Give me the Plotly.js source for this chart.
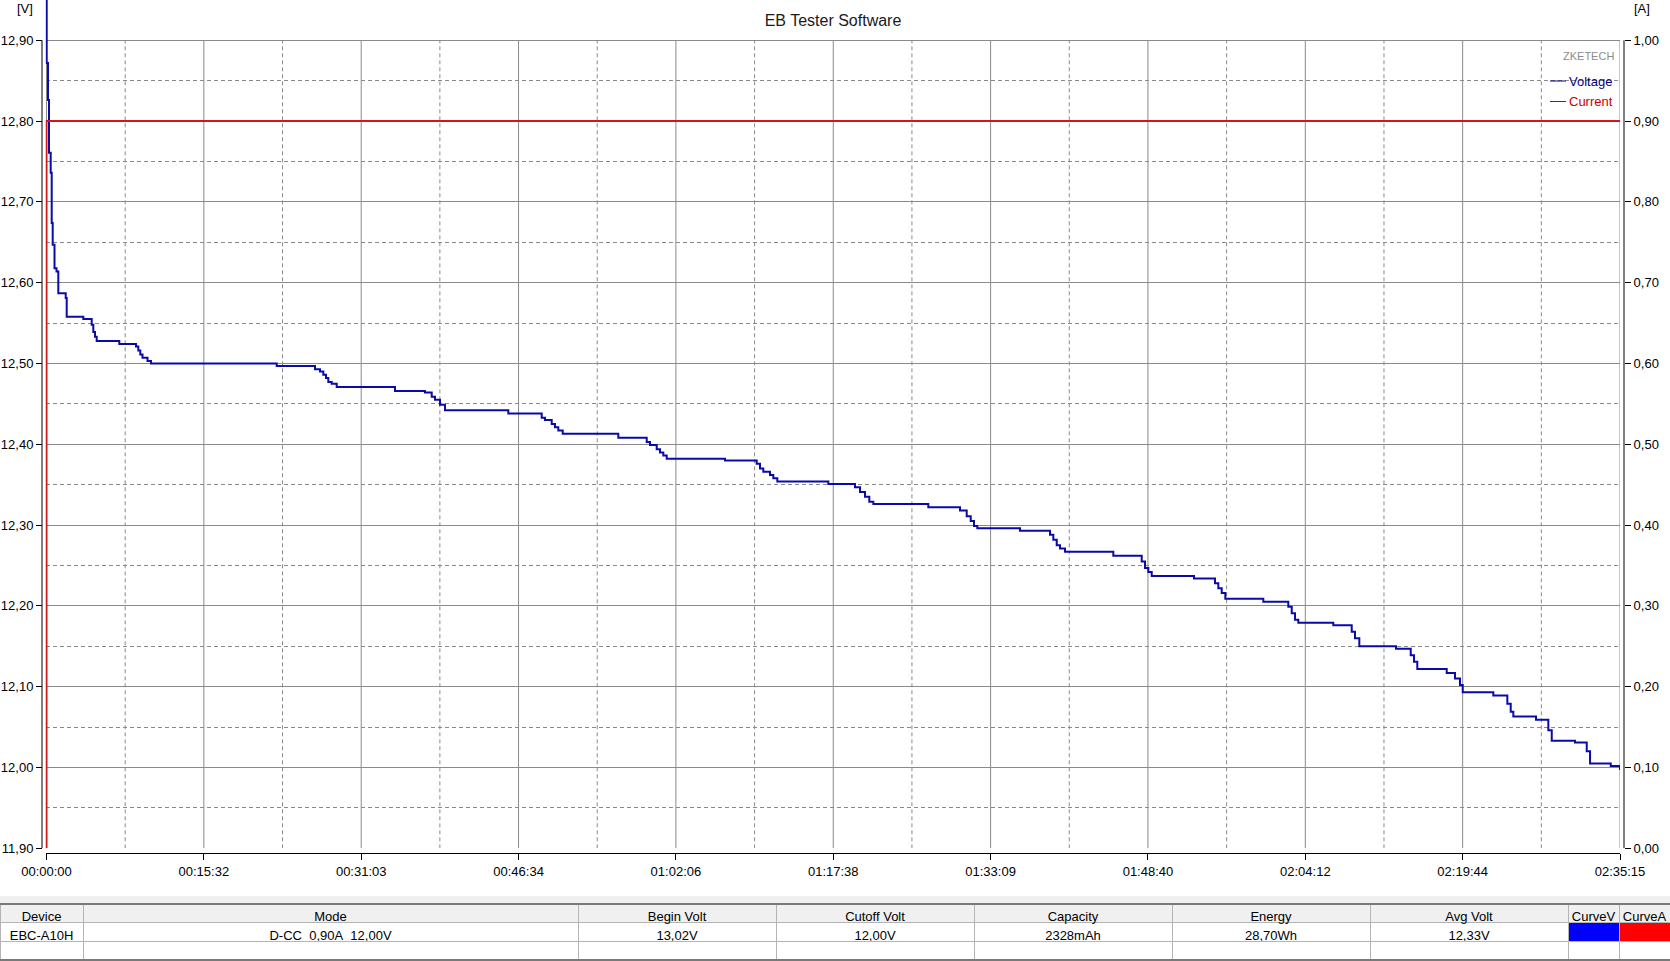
<!DOCTYPE html>
<html>
<head>
<meta charset="utf-8">
<script src="https://cdn.plot.ly/plotly-3.0.1.min.js"></script>
<style>
  html, body { margin: 0; padding: 0; background: #ffffff; }
  #chart { width: 1670px; height: 961px; }
</style>
</head>
<body>
<div id="chart"></div>
<script>
// ---------------- data ----------------
const timeSec = [0,1.2,8.9,14.8,24.9,30.8,36.7,47.4,59.2,69.9,113.7,119.6,217.9,267.6,277.1,287.1,297.2,431.0,529.8,543.5,555.3,568.3,597.9,618.6,1362.8,1589.5,1619.1,1638.7,1654.6,1668.3,1688.4,1718.0,2063.1,2240.7,2280.4,2299.9,2329.5,2359.1,2733.9,2931.6,2951.1,2990.8,3010.3,3029.9,3055.9,3385.1,3553.2,3572.7,3612.4,3632.0,3651.5,3671.6,4016.7,4204.4,4224.0,4243.5,4283.2,4302.7,4326.4,4628.4,4786.3,4815.9,4845.5,4871.0,4894.7,5220.3,5408.0,5447.6,5471.3,5490.8,5510.4,5763.2,5940.8,5960.3,5980.4,6000.0,6029.6,6315.5,6483.6,6503.1,6522.7,6542.8,6793.2,6917.5,6937.1,6957.2,6978.5,7203.5,7351.5,7371.6,7391.1,7410.7,7617.9,7726.8,7746.3,7771.8,7989.0,8076.1,8095.6,8115.1,8289.2,8338.3,8367.9,8383.9,8565.1,8648.0,8668.1,8683.5,8817.9,8890.7,8910.9,9048.8,9118.1,9137.7,9260.2,9315];
const voltage = [13.02,12.872,12.826,12.761,12.736,12.674,12.647,12.618,12.614,12.587,12.581,12.558,12.555,12.548,12.539,12.533,12.528,12.524,12.521,12.516,12.511,12.507,12.503,12.500,12.497,12.493,12.490,12.486,12.482,12.477,12.475,12.471,12.466,12.464,12.459,12.455,12.449,12.442,12.438,12.433,12.430,12.425,12.421,12.417,12.413,12.408,12.403,12.399,12.394,12.390,12.386,12.382,12.380,12.376,12.370,12.366,12.362,12.358,12.354,12.351,12.347,12.341,12.335,12.329,12.326,12.322,12.318,12.311,12.305,12.299,12.296,12.293,12.288,12.282,12.275,12.271,12.267,12.262,12.255,12.247,12.242,12.237,12.234,12.228,12.222,12.216,12.209,12.205,12.199,12.191,12.183,12.179,12.176,12.168,12.160,12.150,12.147,12.139,12.131,12.122,12.117,12.110,12.102,12.093,12.089,12.079,12.069,12.063,12.059,12.046,12.033,12.031,12.020,12.005,12.002,11.997];

const currentTime = [0, 0, 9315];
const currentAmp  = [0, 0.90, 0.90];

const xTickVals = [0, 931.5, 1863, 2794.5, 3726, 4657.5, 5589, 6520.5, 7452, 8383.5, 9315];
const xTickText = ['00:00:00','00:15:32','00:31:03','00:46:34','01:02:06','01:17:38','01:33:09','01:48:40','02:04:12','02:19:44','02:35:15'];

const vTickVals = [11.90,12.00,12.10,12.20,12.30,12.40,12.50,12.60,12.70,12.80,12.90];
const vTickText = ['11,90','12,00','12,10','12,20','12,30','12,40','12,50','12,60','12,70','12,80','12,90'];
const vMinorVals = [11.95,12.05,12.15,12.25,12.35,12.45,12.55,12.65,12.75,12.85];

const aTickVals = [0,0.1,0.2,0.3,0.4,0.5,0.6,0.7,0.8,0.9,1.0];
const aTickText = ['0,00','0,10','0,20','0,30','0,40','0,50','0,60','0,70','0,80','0,90','1,00'];

const tableHeaders = ['Device','Mode','Begin Volt','Cutoff Volt','Capacity','Energy','Avg Volt','CurveV','CurveA'];
const tableRow1 = ['EBC-A10H','D-CC\u00a0\u00a00,90A\u00a0\u00a012,00V','13,02V','12,00V','2328mAh','28,70Wh','12,33V','',''];
const tableRow2 = ['','','','','','','','',''];

// ---------------- geometry helpers (pixels -> paper) ----------------
const W = 1670, H = 961;
const px = v => v / W;
const py = v => 1 - v / H;

const axisFont = {family: 'Liberation Sans Narrow, Arial Narrow, Liberation Sans, Arial, sans-serif', size: 13, color: '#000'};
const textFont = {family: 'Liberation Sans, Arial, sans-serif', size: 13, color: '#000'};
const gridCol = '#8a8a8a';

// grid shapes
const shapes = [];
const yBottom = vTickVals[0], yTop = vTickVals[vTickVals.length - 1];
xTickVals.forEach(v => shapes.push({type:'line', xref:'x', yref:'y', x0:v, x1:v, y0:yBottom, y1:yTop, layer:'below', line:{color:gridCol, width:1}}));
for (let i = 0; i < xTickVals.length - 1; i++) {
  const m = (xTickVals[i] + xTickVals[i+1]) / 2;
  shapes.push({type:'line', xref:'x', yref:'y', x0:m, x1:m, y0:yBottom, y1:yTop, layer:'below', line:{color:gridCol, width:1, dash:'4px,3px'}});
}
// y axis lines
shapes.push({type:'line', xref:'paper', yref:'y', x0:px(42), x1:px(42), y0:yBottom, y1:yTop, line:{color:'#000', width:1}});
shapes.push({type:'line', xref:'paper', yref:'y', x0:px(1624), x1:px(1624), y0:yBottom, y1:yTop, line:{color:'#000', width:1}});
// legend samples
shapes.push({type:'line', xref:'paper', yref:'paper', x0:px(1550), x1:px(1566), y0:py(81), y1:py(81), line:{color:'#000080', width:1}});
shapes.push({type:'line', xref:'paper', yref:'paper', x0:px(1550), x1:px(1566), y0:py(101.5), y1:py(101.5), line:{color:'#cc0000', width:1}});
// table band and borders
shapes.push({type:'rect', xref:'paper', yref:'paper', x0:0, x1:1, y0:py(904), y1:py(896), fillcolor:'#f0f0f0', line:{width:0}, layer:'below'});
shapes.push({type:'line', xref:'paper', yref:'paper', x0:0, x1:1, y0:py(904), y1:py(904), line:{color:'#7a7a7a', width:2}});
shapes.push({type:'line', xref:'paper', yref:'paper', x0:0, x1:1, y0:py(960), y1:py(960), line:{color:'#7a7a7a', width:2}});

const annotations = [
  {text:'[V]', xref:'paper', yref:'paper', x:px(25), y:1, xanchor:'center', yanchor:'top', yshift:1, showarrow:false, font:axisFont},
  {text:'[A]', xref:'paper', yref:'paper', x:px(1642), y:1, xanchor:'center', yanchor:'top', yshift:1, showarrow:false, font:axisFont},
  {text:'ZKETECH', xref:'paper', yref:'paper', x:px(1616), y:py(56.5), xanchor:'right', yanchor:'middle', showarrow:false, font:{family:'Liberation Sans, Arial, sans-serif', size:11, color:'#8c8c8c'}},
  {text:'Voltage', xref:'paper', yref:'paper', x:px(1567), y:py(81), xanchor:'left', yanchor:'middle', showarrow:false, font:{family:'Liberation Sans, Arial, sans-serif', size:13, color:'#000080'}},
  {text:'Current', xref:'paper', yref:'paper', x:px(1567), y:py(101.5), xanchor:'left', yanchor:'middle', showarrow:false, font:{family:'Liberation Sans, Arial, sans-serif', size:13, color:'#cc0000'}}
];

const traces = [
  {
    type:'scatter', mode:'lines', name:'Voltage',
    x: timeSec, y: voltage, xaxis:'x', yaxis:'y',
    line:{color:'#0a0aa8', width:2, shape:'hv'}, hoverinfo:'skip'
  },
  {
    type:'scatter', mode:'lines', name:'Current',
    x: currentTime, y: currentAmp, xaxis:'x', yaxis:'y2',
    line:{color:'#d01818', width:2, shape:'linear'}, hoverinfo:'skip'
  },
  {
    type:'table',
    domain:{x:[0, 1], y:[0, py(903.5)]},
    columnwidth:[83,495,198,198,198,198,198,51,51],
    header:{
      values: tableHeaders,
      fill:{color:'#f0f0f0'},
      line:{color:'#b4b4b4', width:1},
      align:'center', height:19, font:textFont
    },
    cells:{
      values: tableHeaders.map((h, i) => [tableRow1[i], tableRow2[i]]),
      fill:{color: tableHeaders.map((h, i) => i === 7 ? ['#0000ff', '#ffffff'] : (i === 8 ? ['#ff0000', '#ffffff'] : ['#ffffff', '#ffffff']))},
      line:{color:'#b4b4b4', width:1},
      align:'center', height:19, font:textFont
    }
  }
];

const layout = {
  width: W, height: H,
  margin:{l:0, r:0, t:0, b:0, pad:0},
  paper_bgcolor:'#ffffff', plot_bgcolor:'#ffffff',
  showlegend:false,
  title:{text:'EB Tester Software', x:833/W, xanchor:'center', y:py(20.5), yanchor:'middle', xref:'container', yref:'container',
         font:{family:'Liberation Sans, Arial, sans-serif', size:16, color:'#1a1a1a'}},
  xaxis:{
    domain:[px(45.5), px(1620)], range:[-5.92, 9315],
    anchor:'free', position:py(853.3),
    tickmode:'array', tickvals:xTickVals, ticktext:xTickText,
    ticks:'outside', ticklen:6, tickcolor:'#000', tickwidth:1,
    showline:true, linecolor:'#000', linewidth:1,
    showgrid:false, zeroline:false, tickfont:axisFont, fixedrange:true
  },
  yaxis:{
    domain:[py(848.3), 1], range:[11.90, 12.9499],
    anchor:'free', position:px(42),
    tickmode:'array', tickvals:vTickVals, ticktext:vTickText,
    ticks:'outside', ticklen:6, tickcolor:'#000', tickwidth:1,
    showline:false, showgrid:true, gridcolor:gridCol, gridwidth:1,
    zeroline:false, tickfont:axisFont, fixedrange:true,
    minor:{tickmode:'array', tickvals:vMinorVals, showgrid:true, gridcolor:gridCol, gridwidth:1, griddash:'4px,3px', ticks:''}
  },
  yaxis2:{
    overlaying:'y', side:'right', range:[0, 1.0499],
    anchor:'free', position:px(1624),
    tickmode:'array', tickvals:aTickVals, ticktext:aTickText,
    ticks:'outside', ticklen:6, tickcolor:'#000', tickwidth:1,
    showline:false, showgrid:false, zeroline:false, tickfont:axisFont, fixedrange:true
  },
  shapes: shapes,
  annotations: annotations
};

Plotly.newPlot('chart', traces, layout, {staticPlot:true, displayModeBar:false});
</script>
</body>
</html>
